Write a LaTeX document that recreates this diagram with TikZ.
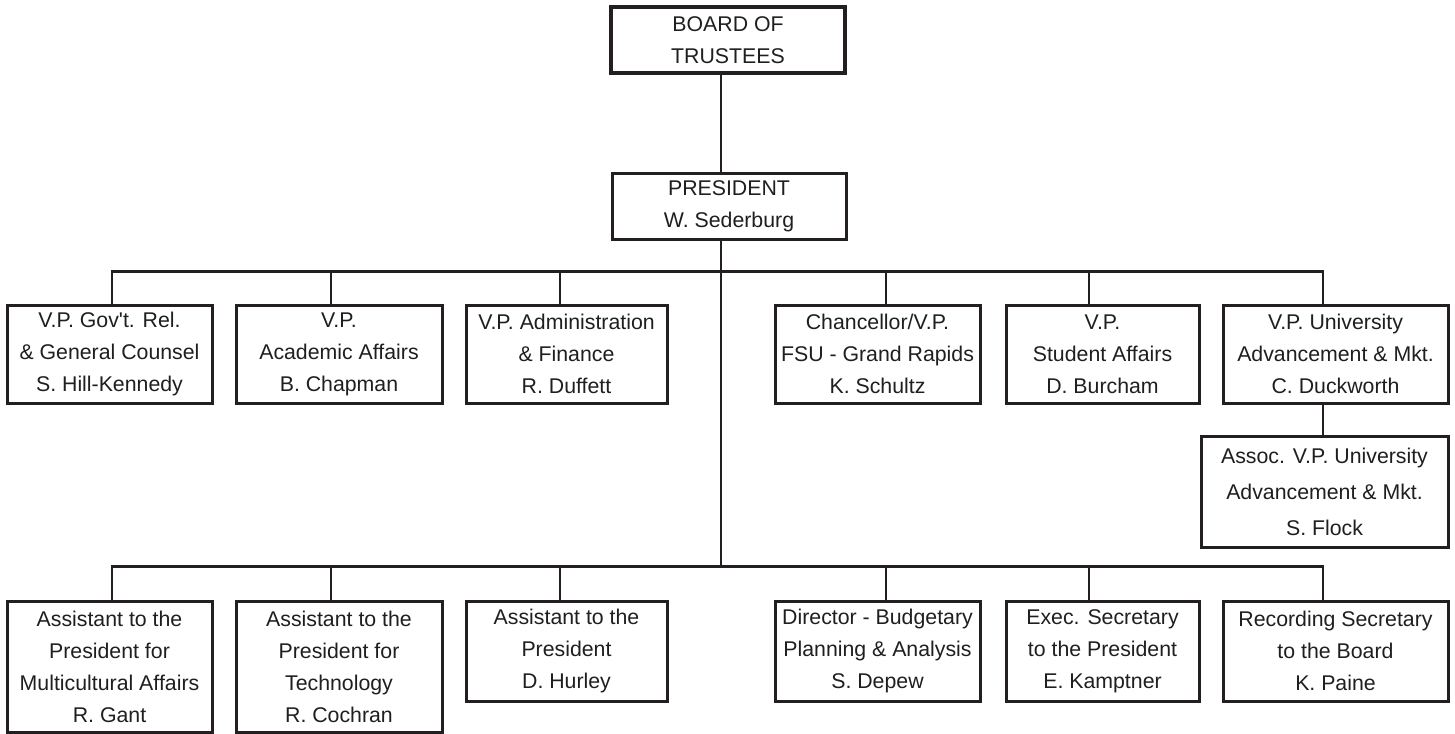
\documentclass[tikz,border=0pt]{standalone}
\usepackage{fontspec}
\setmainfont{Liberation Sans}
\usepackage{tikz}
\usetikzlibrary{calc}

\definecolor{ink}{RGB}{35,31,32}

\begin{document}
\begin{tikzpicture}
  [
    x=0.5pt, y=-0.5pt,
    font=\fontsize{10.65}{16}\selectfont,
    block/.style =
      {draw=ink, rectangle, align=center, line width=1.5pt, inner sep=0pt,
       fill=white, text=black!88, minimum height=49pt},
    head/.style =
      {block, line width=1.9pt, minimum width=117pt, minimum height=33pt},
    link/.style =
      {draw=ink, line width=1.35pt}
  ]
  \useasboundingbox (0,0) rectangle (1455,733);

  \node [head] at ( 728, 40)  (bt) {BOARD OF\\TRUSTEES};
  \node [block, minimum width=117pt, minimum height=33pt] at ( 729,206) (pr)
    {PRESIDENT\\W. Sederburg};

  % vice presidents
  \node [block, minimum width=102.5pt] at ( 109.5,354) (gc)
    {V.P. Gov\textquotesingle t. Rel.\\\& General Counsel\\S. Hill-Kennedy};
  \node [block, minimum width=103pt]   at ( 339,354)   (aa)
    {V.P.\\Academic Affairs\\B. Chapman};
  \node [block, minimum width=100.5pt] at ( 566.5,354) (ad)
    {V.P. Administration\\\& Finance\\R. Duffett};
  \node [block, minimum width=102.5pt] at ( 877.5,354) (ch)
    {Chancellor/V.P.\\FSU - Grand Rapids\\K. Schultz};
  \node [block, minimum width=96.5pt]  at (1102.5,354) (sa)
    {V.P.\\Student Affairs\\D. Burcham};
  \node [block, minimum width=112.5pt] at (1335.5,354) (ua)
    {V.P. University\\Advancement \& Mkt.\\C. Duckworth};
  \node [block, minimum width=123.5pt, minimum height=55.5pt] at (1324.5,491.5) (av)
    {Assoc. V.P. University\\[2pt]Advancement \& Mkt.\\[2pt]S. Flock};

  % staff
  \node [block, minimum width=102.5pt, minimum height=65.5pt] at ( 109.5,666.5) (mc)
    {Assistant to the\\President for\\Multicultural Affairs\\R. Gant};
  \node [block, minimum width=103pt, minimum height=65.5pt]   at ( 339,666.5)   (te)
    {Assistant to the\\President for\\Technology\\R. Cochran};
  \node [block, minimum width=100.5pt, minimum height=50pt] at ( 566.5,651) (hu)
    {Assistant to the\\President\\D. Hurley};
  \node [block, minimum width=102.5pt, minimum height=50pt] at ( 877.5,651) (bp)
    {Director - Budgetary\\Planning \& Analysis\\S. Depew};
  \node [block, minimum width=96.5pt, minimum height=50pt]  at (1102.5,651) (es)
    {Exec. Secretary\\to the President\\E. Kamptner};
  \node [block, minimum width=112.5pt, minimum height=50pt] at (1335.5,651) (rs)
    {Recording Secretary\\to the Board\\K. Paine};

  \coordinate (spine) at (721,568);

  \draw [link] (bt.south -| spine) -- (pr.north -| spine);
  \draw [link] (pr.south -| spine) -- (spine);

  \draw [link] (gc.north -| 112,0) -- ++(0,-32) -| (ua.north -| 1323,0);
  \foreach \n/\x in {aa/331, ad/560, ch/886, sa/1089}
    \draw [link] (\n.north -| \x,0) -- ++(0,-32);
  \draw [link] (ua.south -| 1323,0) -- (av.north -| 1323,0);

  \draw [link] (mc.north -| 112,0) -- ++(0,-33) -| (rs.north -| 1323,0);
  \foreach \n/\x in {te/331, hu/560, bp/886, es/1089}
    \draw [link] (\n.north -| \x,0) -- ++(0,-33);
\end{tikzpicture}
\end{document}
